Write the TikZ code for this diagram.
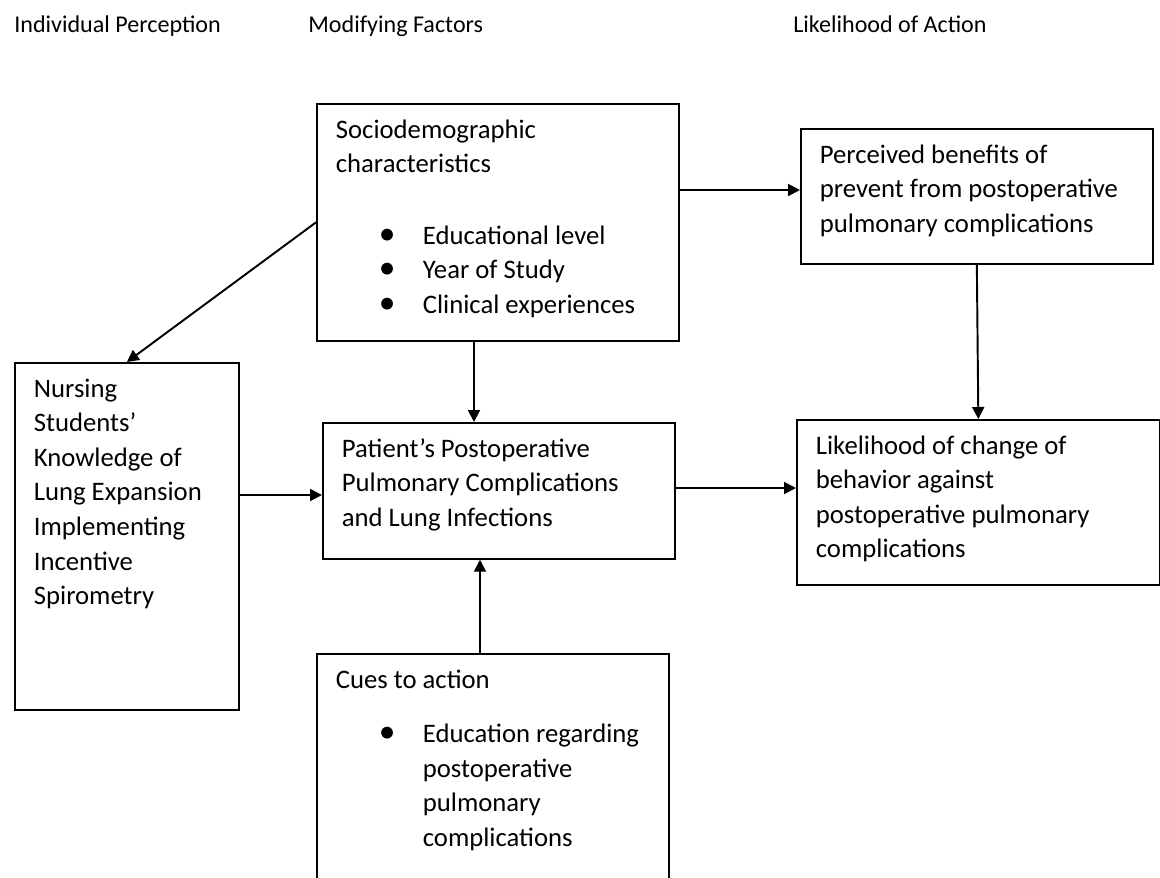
\documentclass[tikz,border=0pt]{standalone}
\usepackage{fontspec}
\setmainfont{Carlito}
\usetikzlibrary{arrows.meta}

\tikzset{
  head/.style={anchor=base west, inner sep=0pt, font=\fontsize{13.7}{16}\selectfont},
  box/.style={draw, line width=1pt, anchor=north west, inner xsep=0.38cm, inner ysep=0.2cm,
    font=\fontsize{15.2}{19.7}\selectfont},
  arrow/.style={line width=1.1pt, -{Triangle[length=0.24cm, width=0.24cm]}},
}
\newcommand{\cell}[3]{\parbox[t][#2][t]{#1}{\raggedright\strut #3}}
\newcommand{\bul}{\hspace*{0.86cm}\makebox[0.88cm][l]{\scalebox{1.25}{\textbullet}}}
\newcommand{\ind}{\hspace*{1.74cm}}

\begin{document}
\begin{tikzpicture}[x=0.02cm, y=-0.02cm]
\clip (0,0) rectangle (1160,877);

\node[head] (hdperc) at (14,32)  {Individual Perception};
\node[head] (hdmod)  at (308,32) {Modifying Factors};
\node[head] (hdact)  at (793,32) {Likelihood of Action};

%%%%%%%%%%%%%%%%%%%%%%%%%%%%%%%%%%%%%%%%

\node[box] (socio) at (316,103) {\cell{6.48cm}{4.34cm}{Sociodemographic\\ characteristics\\[0.74cm]
  \bul Educational level\\ \bul Year of Study\\ \bul Clinical experiences}};
\node[box] (benefit) at (800,128) {\cell{6.28cm}{2.3cm}{Perceived benefits of\\
  prevent from postoperative\\ pulmonary complications}};
\node[box] (nursing) at (14,362) {\cell{3.72cm}{6.54cm}{Nursing\\ Students’\\ Knowledge of\\
  Lung Expansion\\ Implementing\\ Incentive\\ Spirometry}};
\node[box] (patient) at (322,422) {\cell{6.28cm}{2.32cm}{Patient’s Postoperative\\
  Pulmonary Complications\\ and Lung Infections}};
\node[box] (change) at (796,419) {\cell{6.5cm}{2.9cm}{Likelihood of change of\\
  behavior against\\ postoperative pulmonary\\ complications}};
\node[box] (cues) at (316,653) {\cell{6.28cm}{4.54cm}{Cues to action\\[0.4cm]
  \bul Education regarding\\ \ind postoperative\\ \ind pulmonary\\ \ind complications}};

%%%%%%%%%%%%%%%%%%%%%%%%%%%%%%%%%%%%%%%%

\draw[arrow] (socio.west) -- (nursing.north);
\draw[arrow] (socio.south -| 474,0) -- (patient.north -| 474,0);
\draw[arrow] (socio.east |- 0,190) -- (benefit.west |- 0,190);
\draw[arrow] (benefit.south) -- (change.north);
\draw[arrow] (nursing.east |- 0,495) -- (patient.west |- 0,495);
\draw[arrow] (patient.east |- 0,488) -- (change.west |- 0,488);
\draw[arrow] (cues.north -| 480,0) -- (patient.south -| 480,0);
\end{tikzpicture}
\end{document}
